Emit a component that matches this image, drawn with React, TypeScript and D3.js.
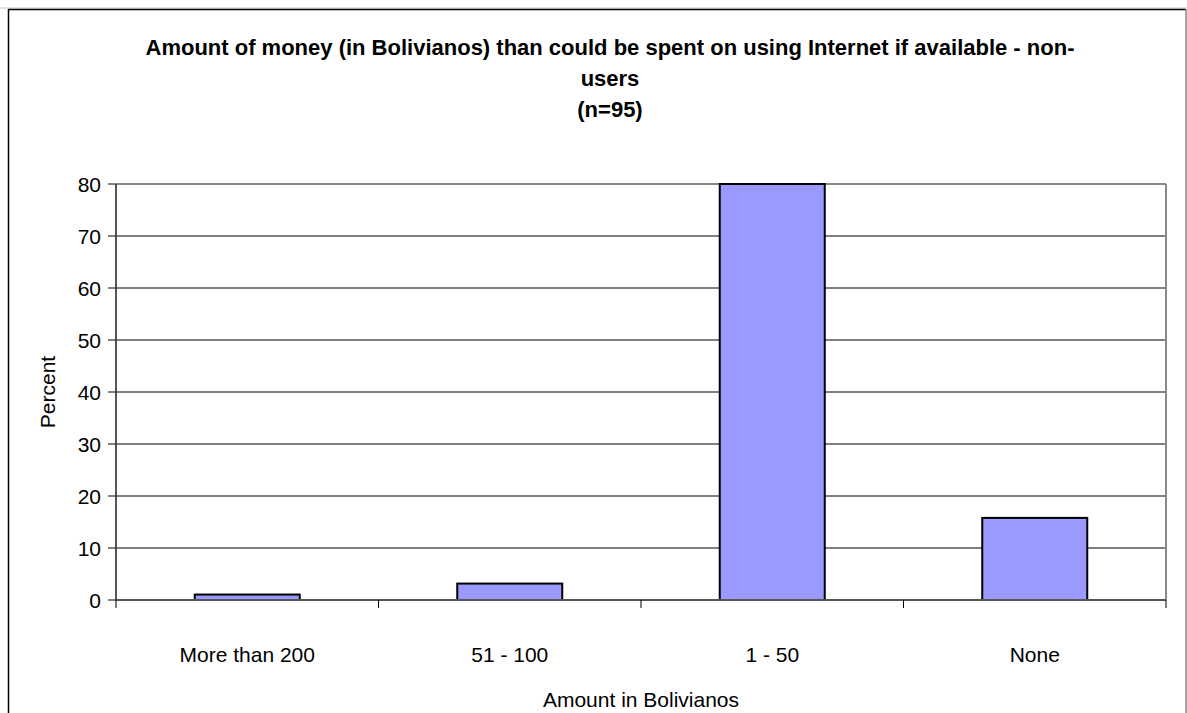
import React from "react";
import * as d3 from "d3";

const categories = ["More than 200", "51 - 100", "1 - 50", "None"];
const values = [1.05, 3.16, 80, 15.79];
const yTicks = [0, 10, 20, 30, 40, 50, 60, 70, 80];
const titleLines = [
  "Amount of money (in Bolivianos) than could be spent on using Internet if available - non-",
  "users",
  "(n=95)",
];

export default function App() {
  const W = 1187, H = 713;
  const left = 116, right = 1166, top = 184, bottom = 600;
  const x = d3.scaleBand().domain(categories).range([left, right]).paddingInner(0.6).paddingOuter(0.3);
  const xc = d3.scaleBand().domain(categories).range([left, right]);
  const y = d3.scaleLinear().domain([0, 80]).range([bottom, top]);
  const font = "Arial, 'Liberation Sans', sans-serif";
  return (
    <svg width={W} height={H} style={{ position: "absolute", left: 0, top: 0, background: "#fff" }} fontFamily={font}>
      <line x1={0} x2={W} y1={8} y2={8} stroke="#c8c8c8" />
      <line x1={8} x2={1186} y1={9.5} y2={9.5} stroke="#000" strokeWidth={1.5} />
      <line x1={8.5} x2={8.5} y1={9} y2={H} stroke="#000" strokeWidth={1.5} />
      <line x1={1186} x2={1186} y1={9} y2={H} stroke="#888" strokeWidth={1.5} />
      {titleLines.map((t, i) => (
        <text key={i} x={610} y={55 + i * 31} textAnchor="middle" fontWeight="bold" fontSize={22}>{t}</text>
      ))}
      {yTicks.filter(t => t > 0).map(t => (
        <line key={t} x1={left} x2={right} y1={y(t)} y2={y(t)} stroke="#000" strokeWidth={1} />
      ))}
      <line x1={left} x2={right} y1={top} y2={top} stroke="#888" strokeWidth={2} />
      <line x1={right} x2={right} y1={top} y2={bottom} stroke="#888" strokeWidth={2} />
      {categories.map((c, i) => (
        <rect key={c} x={x(c)!} y={y(values[i])} width={x.bandwidth()} height={bottom - y(values[i])}
          fill="#9999FF" stroke="#000" strokeWidth={2} />
      ))}
      <line x1={left} x2={left} y1={top} y2={bottom} stroke="#555" strokeWidth={2} />
      <line x1={left} x2={right} y1={bottom} y2={bottom} stroke="#555" strokeWidth={2} />
      {yTicks.map(t => (
        <g key={t}>
          <line x1={left - 8} x2={left} y1={y(t)} y2={y(t)} stroke="#000" />
          <text x={101} y={y(t) + 7.5} textAnchor="end" fontSize={21}>{t}</text>
        </g>
      ))}
      {[...categories.map(c => xc(c)!), right].map((p, i) => (
        <line key={i} x1={p} x2={p} y1={bottom} y2={bottom + 8} stroke="#000" />
      ))}
      {categories.map(c => (
        <text key={c} x={xc(c)! + xc.bandwidth() / 2} y={662} textAnchor="middle" fontSize={21}>{c}</text>
      ))}
      <text x={641} y={707} textAnchor="middle" fontSize={21}>Amount in Bolivianos</text>
      <text transform={`translate(55,392) rotate(-90)`} textAnchor="middle" fontSize={21}>Percent</text>
    </svg>
  );
}
